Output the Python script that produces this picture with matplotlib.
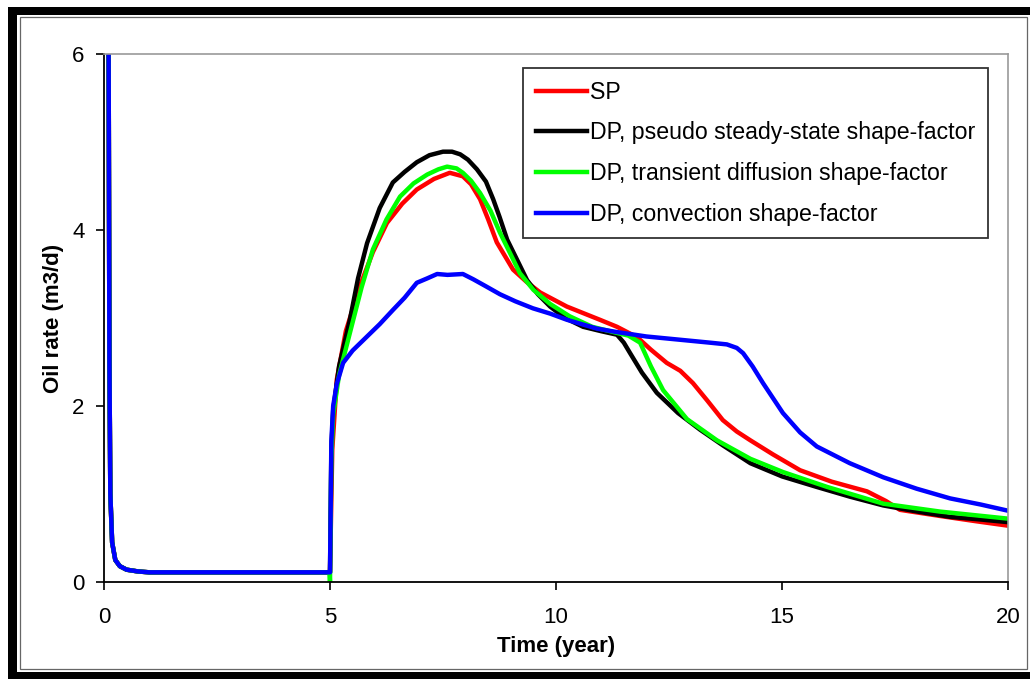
import matplotlib
matplotlib.use("Agg")
import matplotlib.pyplot as plt
from matplotlib.patches import Rectangle
import numpy as np

plt.rcParams['font.family'] = ['Liberation Sans', 'DejaVu Sans']

# shared early decline (0 - 5 years)
t_early = [0.0, 0.10, 0.12, 0.14, 0.18, 0.25, 0.35, 0.5, 0.75, 1.0, 4.99]
q_early = [7.0, 6.5, 2.5, 1.0, 0.45, 0.25, 0.18, 0.14, 0.12, 0.11, 0.11]

# SP
t_sp = [5.0, 5.05, 5.15, 5.35, 5.66, 5.95, 6.26, 6.6, 6.92, 7.3, 7.65, 7.94, 8.12, 8.32,
        8.5, 8.69, 9.05, 9.35, 9.65, 10.24, 10.97, 11.35, 11.8, 12.1, 12.45, 12.75, 13.03,
        13.35, 13.69, 14.0, 14.3, 14.8, 15.4, 16.1, 16.88, 17.3, 17.61, 18.5, 19.3, 20.0]
q_sp = [0.11, 1.5, 2.3, 2.85, 3.36, 3.75, 4.08, 4.3, 4.46, 4.58, 4.65, 4.61, 4.52, 4.35,
        4.12, 3.86, 3.55, 3.41, 3.29, 3.13, 2.98, 2.90, 2.78, 2.64, 2.49, 2.40, 2.26,
        2.06, 1.84, 1.71, 1.61, 1.45, 1.27, 1.14, 1.03, 0.92, 0.82, 0.75, 0.69, 0.64]

# DP pseudo steady-state
t_pss = [5.0, 5.03, 5.07, 5.2, 5.44, 5.62, 5.82, 6.1, 6.39, 6.65, 6.92, 7.2, 7.5, 7.7,
         7.88, 8.05, 8.25, 8.45, 8.61, 8.75, 8.92, 9.15, 9.36, 9.6, 9.87, 10.2, 10.6, 11.0,
         11.35, 11.5, 11.64, 11.9, 12.23, 12.7, 13.19, 13.7, 14.3, 15.0, 15.77, 16.5,
         17.24, 18.0, 18.72, 19.4, 20.0]
q_pss = [0.11, 1.5, 1.95, 2.45, 2.98, 3.45, 3.85, 4.25, 4.54, 4.66, 4.77, 4.85, 4.89, 4.89,
         4.86, 4.80, 4.69, 4.55, 4.35, 4.15, 3.89, 3.65, 3.43, 3.27, 3.13, 3.00, 2.90, 2.85,
         2.81, 2.72, 2.60, 2.38, 2.15, 1.92, 1.73, 1.55, 1.35, 1.20, 1.08, 0.97,
         0.87, 0.80, 0.74, 0.71, 0.68]

# DP transient diffusion
t_td = [5.0, 5.03, 5.07, 5.2, 5.44, 5.7, 5.95, 6.25, 6.55, 6.85, 7.15, 7.4, 7.59, 7.8,
        7.94, 8.12, 8.32, 8.55, 8.76, 9.0, 9.2, 9.5, 9.87, 10.3, 10.8, 11.35, 11.6, 11.86,
        12.1, 12.37, 12.9, 13.56, 14.3, 15.02, 16.0, 17.24, 18.5, 20.0]
q_td = [0.0, 1.4, 1.9, 2.35, 2.83, 3.35, 3.78, 4.12, 4.38, 4.53, 4.63, 4.69, 4.72, 4.70,
        4.65, 4.56, 4.42, 4.22, 3.97, 3.72, 3.51, 3.32, 3.16, 3.02, 2.90, 2.83, 2.80, 2.72,
        2.45, 2.18, 1.85, 1.61, 1.40, 1.25, 1.08, 0.89, 0.80, 0.72]

# DP convection
t_cv = [5.0, 5.03, 5.07, 5.15, 5.29, 5.5, 5.82, 6.1, 6.39, 6.65, 6.92, 7.15, 7.37, 7.6,
        7.94, 8.17, 8.45, 8.76, 9.1, 9.49, 9.87, 10.24, 10.9, 11.35, 12.0, 12.8, 13.4,
        13.78, 14.0, 14.14, 14.35, 14.58, 15.02, 15.4, 15.77, 16.5, 17.24, 17.98, 18.72,
        19.4, 20.0]
q_cv = [0.11, 1.6, 2.0, 2.25, 2.49, 2.63, 2.79, 2.93, 3.09, 3.23, 3.40, 3.45, 3.50, 3.49,
        3.50, 3.44, 3.36, 3.27, 3.19, 3.11, 3.05, 2.98, 2.88, 2.84, 2.79, 2.75, 2.72,
        2.70, 2.66, 2.60, 2.45, 2.26, 1.92, 1.70, 1.54, 1.35, 1.19, 1.06, 0.95,
        0.88, 0.81]

labels = ['SP', 'DP, pseudo steady-state shape-factor',
          'DP, transient diffusion shape-factor', 'DP, convection shape-factor']
colors = ['#ff0000', '#000000', '#00ff00', '#0000ff']
series = [(t_sp, q_sp), (t_pss, q_pss), (t_td, q_td), (t_cv, q_cv)]

W, H = 1030, 679
fig = plt.figure(figsize=(W / 100, H / 100), dpi=100)

# frame around the picture
def px_rect(x0, y0, x1, y1, **kw):
    r = Rectangle((x0 / W, 1 - y1 / H), (x1 - x0) / W, (y1 - y0) / H,
                  transform=fig.transFigure, **kw)
    fig.add_artist(r)

px_rect(8, 7, W + 5, 15, facecolor='black', edgecolor='none')
px_rect(8, 7, 17, H + 5, facecolor='black', edgecolor='none')
px_rect(8, 672, W + 5, H + 5, facecolor='black', edgecolor='none')
px_rect(20, 16.5, 1026.5, 669, facecolor='none', edgecolor='#666666', linewidth=0.9)

ax = fig.add_axes([104 / W, (H - 582) / H, (1008 - 104) / W, (582 - 54) / H])

for (t, q), c, lab in zip(series, colors, labels):
    tt = np.concatenate([t_early, t])
    qq = np.concatenate([q_early, q])
    ax.plot(tt, qq, color=c, lw=3.2, label=lab, solid_joinstyle='round')

ax.set_xlim(0, 20)
ax.set_ylim(0, 6)
ax.set_xticks([0, 5, 10, 15, 20])
ax.set_yticks([0, 2, 4, 6])
ax.tick_params(labelsize=16, length=6, width=1.2, color='black')
ax.tick_params(axis='x', pad=12)
ax.tick_params(axis='y', pad=8)
for s in ['top', 'right']:
    ax.spines[s].set_color('#999999')
    ax.spines[s].set_linewidth(1.2)
for s in ['left', 'bottom']:
    ax.spines[s].set_linewidth(1.3)

ax.set_xlabel('Time (year)', fontsize=16, fontweight='bold', labelpad=6)
ax.set_ylabel('Oil rate (m3/d)', fontsize=16, fontweight='bold', labelpad=6)

leg = ax.legend(loc='upper right', bbox_to_anchor=((988 - 104) / 904, (582 - 68) / 528),
                fontsize=16.7, frameon=True, fancybox=False, edgecolor='black',
                handlelength=2.2, handletextpad=0.12, labelspacing=0.76,
                borderpad=0.55, borderaxespad=0)
leg.get_frame().set_linewidth(1.3)

fig.savefig('out.png', dpi=100)
